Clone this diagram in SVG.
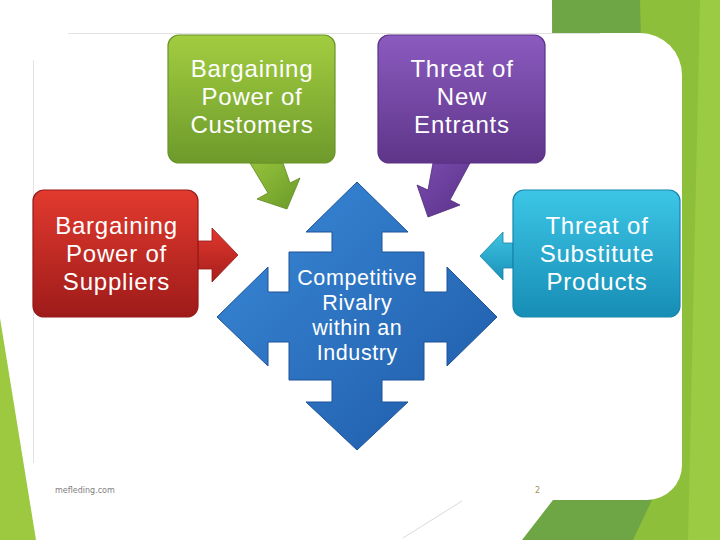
<svg xmlns="http://www.w3.org/2000/svg" width="720" height="540" viewBox="0 0 720 540">
<defs>
<linearGradient id="gGreen" x1="0" y1="0" x2="0" y2="1"><stop offset="0" stop-color="#a2cd40"/><stop offset="1" stop-color="#6d9a2b"/></linearGradient>
<linearGradient id="gPurple" x1="0" y1="0" x2="0" y2="1"><stop offset="0" stop-color="#8b5bbf"/><stop offset="1" stop-color="#5e3589"/></linearGradient>
<linearGradient id="gRed" x1="0" y1="0" x2="0" y2="1"><stop offset="0" stop-color="#e23a2e"/><stop offset="1" stop-color="#9e1b1a"/></linearGradient>
<linearGradient id="gCyan" x1="0" y1="0" x2="0" y2="1"><stop offset="0" stop-color="#3cc6e6"/><stop offset="1" stop-color="#178db5"/></linearGradient>
<linearGradient id="gBlue" x1="0" y1="0" x2="1" y2="1"><stop offset="0" stop-color="#3a8ad8"/><stop offset="1" stop-color="#1e5aa8"/></linearGradient>
<linearGradient id="gGreenA" x1="0" y1="0" x2="1" y2="1"><stop offset="0" stop-color="#95c23a"/><stop offset="1" stop-color="#6a9a2a"/></linearGradient>
<linearGradient id="gPurpleA" x1="0" y1="0" x2="1" y2="1"><stop offset="0" stop-color="#7a4bb0"/><stop offset="1" stop-color="#5a3288"/></linearGradient>
<linearGradient id="gRedA" x1="0" y1="0" x2="0" y2="1"><stop offset="0" stop-color="#e0392e"/><stop offset="1" stop-color="#a81e1c"/></linearGradient>
<linearGradient id="gCyanA" x1="0" y1="0" x2="0" y2="1"><stop offset="0" stop-color="#3ec3e2"/><stop offset="1" stop-color="#1a92b8"/></linearGradient>
</defs>
<style>
.box{stroke-width:1.2}
.lbl{font-family:"Liberation Sans","Open Sans",sans-serif;font-size:24px;letter-spacing:0.8px;fill:#ffffff;text-anchor:middle}
.clbl{font-family:"Liberation Sans","Open Sans",sans-serif;font-size:21.5px;letter-spacing:0.6px;fill:#ffffff;text-anchor:middle}
.foot{font-family:"DejaVu Sans","Liberation Sans",sans-serif;font-size:8px;fill:#808080}
</style>
<rect width="720" height="540" fill="#ffffff"/>
<g id="background">
<polygon points="637,0 720,0 720,540 630,540" fill="#8dbf3a"/>
<polygon points="700,0 720,0 720,540 688,540" fill="#9acb42"/>
<polygon points="552,0 640,0 652,500 633,540 522,540 553,500" fill="#6fa645"/>
<polygon points="0,318 36,540 0,540" fill="#9cc940"/>
<path d="M33,33 H640 A42,42 0 0 1 682,75 V465 A35,35 0 0 1 647,500 H33 Z" fill="#ffffff"/>
<line x1="68" y1="33.5" x2="600" y2="33.5" stroke="#e2e2e2" stroke-width="1"/>
<line x1="33.5" y1="60" x2="33.5" y2="463" stroke="#e2e2e2" stroke-width="1"/>
<line x1="403" y1="538" x2="462" y2="501" stroke="#cfcfcf" stroke-width="0.8"/>
</g>
<g id="connectors">
<polygon points="250,163 283,163 290,183 300,178 287,209 257,199 268,193" fill="url(#gGreenA)" stroke="#5f8a22" stroke-width="0.8"/>
<polygon points="433,163 470,163 450,200 460,205 428,217 417,185 428,190" fill="url(#gPurpleA)" stroke="#4d2a78" stroke-width="0.8"/>
<polygon points="198,241 212,241 212,228 238,255 212,282 212,269 198,269" fill="url(#gRedA)" stroke="#931816" stroke-width="0.8"/>
<polygon points="513,243 503,243 503,232 480,256 503,280 503,268 513,268" fill="url(#gCyanA)" stroke="#1680a5" stroke-width="0.8"/>
</g>
<g id="node-customers">
<rect class="box" x="168" y="35" width="167" height="128" rx="11" fill="url(#gGreen)" stroke="#6a9428"/>
<text class="lbl" x="252" y="77">Bargaining</text>
<text class="lbl" x="252" y="105">Power of</text>
<text class="lbl" x="252" y="133">Customers</text>
</g>
<g id="node-entrants">
<rect class="box" x="378" y="35" width="167" height="128" rx="11" fill="url(#gPurple)" stroke="#5a3386"/>
<text class="lbl" x="462" y="77">Threat of</text>
<text class="lbl" x="462" y="105">New</text>
<text class="lbl" x="462" y="133">Entrants</text>
</g>
<g id="node-suppliers">
<rect class="box" x="33" y="190" width="165" height="127" rx="11" fill="url(#gRed)" stroke="#961a19"/>
<text class="lbl" x="116.5" y="234">Bargaining</text>
<text class="lbl" x="116.5" y="262">Power of</text>
<text class="lbl" x="116.5" y="290">Suppliers</text>
</g>
<g id="node-substitutes">
<rect class="box" x="513" y="190" width="167" height="127" rx="11" fill="url(#gCyan)" stroke="#1786ad"/>
<text class="lbl" x="597" y="234">Threat of</text>
<text class="lbl" x="597" y="262">Substitute</text>
<text class="lbl" x="597" y="290">Products</text>
</g>
<g id="node-rivalry">
<path d="M357,182 L408,232 L382,232 L382,252 L424,252 L424,292 L447,292 L447,267 L497,317 L447,366 L447,342 L424,342 L424,380 L382,380 L382,402 L408,402 L357,450 L306,402 L332,402 L332,380 L289,380 L289,342 L268,342 L268,366 L217,317 L268,267 L268,292 L289,292 L289,252 L332,252 L332,232 L306,232 Z" fill="url(#gBlue)" stroke="#1d5299" stroke-width="1"/>
<text class="clbl" x="357.3" y="285">Competitive</text>
<text class="clbl" x="357.3" y="310">Rivalry</text>
<text class="clbl" x="357.3" y="335">within an</text>
<text class="clbl" x="357.3" y="360">Industry</text>
</g>
<g id="footer">
<text class="foot" x="55" y="493">mefleding.com</text>
<text class="foot" x="535" y="493" style="fill:#a39257">2</text>
</g>
</svg>
